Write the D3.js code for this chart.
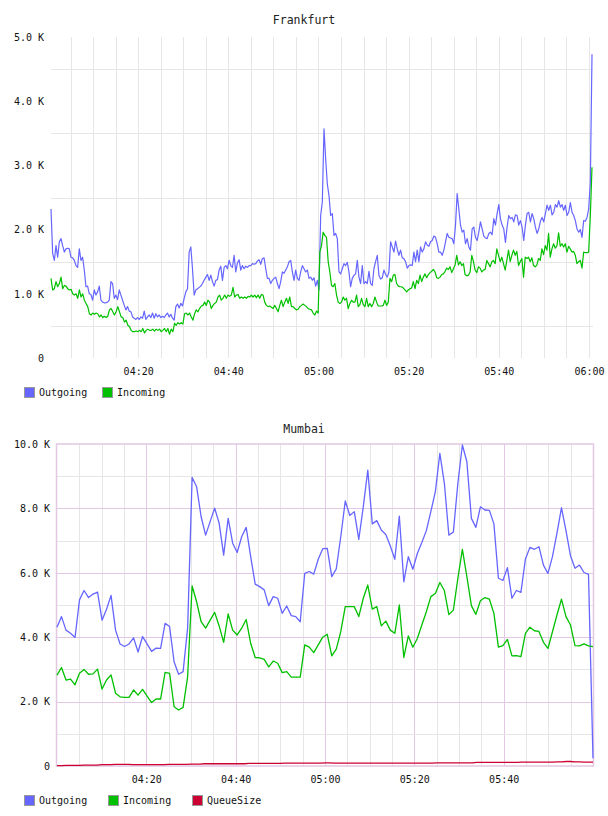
<!DOCTYPE html>
<html><head><meta charset="utf-8">
<script src="https://cdn.jsdelivr.net/npm/d3@7"></script>
<style>body{margin:0;background:#fff;} svg{display:block;font-family:"DejaVu Sans Mono",monospace;}</style>
</head><body><svg id="c" width="608" height="816"></svg>
<script>
// ---------- DATA (values in thousands) ----------
const fraStart = "04:00:40", fraEnd = "06:00:40";
const fraOutgoing = [
2.32,1.63,1.52,1.75,1.57,1.81,1.86,1.75,1.65,1.70,
1.71,1.70,1.57,1.56,1.52,1.44,1.41,1.70,1.52,1.57,
1.37,1.11,1.12,1.00,0.99,0.90,1.06,0.98,1.03,1.12,
0.90,0.87,0.86,0.86,0.87,0.90,1.19,1.16,0.93,0.98,
0.91,1.06,0.98,0.90,0.82,0.75,0.80,0.73,0.72,0.64,
0.62,0.60,0.63,0.60,0.64,0.62,0.73,0.60,0.64,0.67,
0.63,0.70,0.62,0.69,0.64,0.67,0.63,0.65,0.63,0.67,
0.70,0.64,0.68,0.62,0.59,0.80,0.84,0.78,0.85,0.81,
0.93,1.03,1.08,1.65,1.73,1.39,0.98,1.06,1.08,1.10,
1.12,1.16,1.21,1.26,1.30,1.21,1.29,1.19,1.12,1.21,
1.22,1.37,1.43,1.21,1.41,1.44,1.39,1.52,1.44,1.41,
1.60,1.34,1.48,1.53,1.37,1.44,1.39,1.43,1.41,1.44,
1.44,1.47,1.46,1.47,1.51,1.53,1.46,1.55,1.56,1.39,
1.24,1.24,1.16,1.21,1.24,1.26,1.16,1.08,1.19,1.34,
1.32,1.37,1.42,1.50,1.52,1.34,1.21,1.37,1.24,1.21,
1.34,1.44,1.39,1.34,1.37,1.24,1.26,1.21,1.25,1.12,
1.21,1.06,
2.22,2.43,3.57,3.10,2.71,2.53,2.22,2.25,1.91,1.94,
1.86,1.34,1.31,1.39,1.47,1.44,1.49,1.34,1.11,1.24,
1.29,1.31,1.52,1.26,1.16,1.44,1.16,1.19,1.16,1.35,
1.16,1.13,1.39,1.50,1.60,1.29,1.23,1.25,1.37,1.30,
1.26,1.34,1.81,1.73,1.65,1.82,1.70,1.60,1.68,1.56,
1.55,1.50,1.40,1.44,1.45,1.44,1.65,1.50,1.68,1.50,
1.73,1.65,1.70,1.81,1.76,1.74,1.81,1.83,1.90,1.88,
1.78,1.65,1.65,1.60,1.68,1.81,1.94,1.88,1.87,1.86,
1.78,2.07,2.56,2.32,2.07,1.96,1.99,1.78,1.86,1.73,
1.68,2.01,2.04,1.88,1.83,1.96,2.12,2.01,1.90,1.87,
1.86,1.94,1.96,1.92,2.17,2.07,2.25,2.39,2.17,2.07,
2.01,1.80,2.04,2.22,2.17,2.19,2.12,2.23,2.22,2.07,
2.14,2.04,1.83,2.07,2.25,2.27,2.12,2.25,2.17,2.04,
1.94,2.01,2.13,2.19,2.12,2.25,2.38,2.30,2.38,2.23,
2.27,2.39,2.35,2.45,2.35,2.39,2.30,2.38,2.22,2.27,
2.42,2.27,2.22,2.14,2.01,1.96,2.00,1.88,2.14,2.13,
2.19,2.32,2.74,4.73];
const fraIncoming = [
1.24,1.06,1.08,1.19,1.11,1.16,1.26,1.08,1.13,1.12,
1.08,1.06,1.07,1.00,0.98,1.00,0.93,1.06,0.95,1.00,
0.90,0.85,0.80,0.69,0.67,0.70,0.68,0.70,0.69,0.64,
0.67,0.63,0.65,0.63,0.65,0.75,0.77,0.72,0.67,0.72,
0.80,0.72,0.64,0.63,0.56,0.59,0.51,0.49,0.43,0.41,
0.41,0.42,0.41,0.43,0.41,0.46,0.39,0.43,0.45,0.43,
0.43,0.45,0.42,0.45,0.43,0.45,0.41,0.43,0.46,0.41,
0.46,0.37,0.45,0.41,0.54,0.51,0.55,0.53,0.55,0.53,
0.69,0.70,0.67,0.70,0.64,0.59,0.69,0.75,0.72,0.77,
0.81,0.82,0.87,0.82,0.90,0.87,0.77,0.82,0.85,0.87,
0.95,0.98,0.90,0.93,0.98,0.93,0.98,0.96,0.98,1.10,
0.95,0.98,0.99,0.93,0.95,0.93,0.95,0.93,0.96,0.95,
0.98,0.95,0.98,0.94,0.98,0.93,0.99,0.98,0.87,0.82,
0.80,0.81,0.79,0.77,0.82,0.77,0.72,0.82,0.90,0.80,
0.87,0.93,0.85,0.95,0.80,0.80,0.77,0.75,0.76,0.80,
0.82,0.84,0.82,0.80,0.77,0.76,0.75,0.70,0.67,0.73,
0.70,
1.65,1.75,1.96,1.91,1.88,1.50,1.34,1.13,1.11,1.16,
0.98,0.87,0.85,0.87,0.95,0.90,0.93,0.77,0.85,0.90,
0.87,0.87,0.98,0.80,0.83,0.93,0.83,0.80,0.93,0.80,
0.85,0.80,0.85,0.95,0.87,0.81,0.81,0.81,0.82,0.90,
0.82,0.87,1.24,1.19,1.29,1.30,1.16,1.12,1.11,1.11,
1.09,1.06,1.03,1.06,1.08,1.09,1.19,1.08,1.21,1.16,
1.29,1.19,1.26,1.31,1.25,1.30,1.33,1.35,1.38,1.34,
1.25,1.24,1.26,1.30,1.31,1.35,1.40,1.38,1.42,1.33,
1.39,1.45,1.60,1.45,1.50,1.44,1.47,1.30,1.28,1.29,
1.34,1.60,1.50,1.37,1.33,1.42,1.40,1.34,1.37,1.38,
1.52,1.47,1.42,1.50,1.52,1.47,1.70,1.60,1.50,1.57,
1.47,1.37,1.52,1.68,1.50,1.60,1.68,1.60,1.66,1.44,
1.50,1.55,1.26,1.57,1.55,1.57,1.50,1.56,1.44,1.42,
1.45,1.55,1.52,1.70,1.61,1.75,1.68,1.94,1.57,1.70,
1.78,1.71,1.75,1.95,1.74,1.78,1.73,1.78,1.65,1.74,
1.70,1.65,1.66,1.60,1.47,1.50,1.52,1.40,1.65,1.64,
1.64,1.65,2.22,2.97];

const mumStart = "04:00:00", mumEnd = "06:00:00";
const mumOutgoing = [
4.31,4.64,4.22,4.12,3.99,5.16,5.45,5.23,5.34,5.40,
4.53,4.87,5.30,4.22,3.79,3.71,3.79,3.98,3.54,4.02,
3.79,3.56,3.66,3.65,4.43,4.33,3.23,2.85,2.93,4.28,
8.96,8.67,7.74,7.17,7.59,8.01,7.54,6.55,7.69,6.92,
6.63,7.12,7.41,6.50,5.65,5.57,5.47,4.98,5.26,5.21,
4.74,4.97,4.67,4.64,4.48,5.98,6.04,5.96,6.42,6.75,
6.76,5.88,6.12,7.12,8.23,7.78,7.90,7.04,8.05,9.19,
7.52,7.62,7.33,7.19,6.83,6.42,7.76,5.72,6.50,6.11,
6.60,6.94,7.31,7.90,8.52,9.71,8.78,7.17,7.27,8.78,
9.97,9.45,7.69,7.41,8.05,7.95,7.94,7.52,5.83,5.76,
6.16,5.21,5.45,5.39,6.43,6.79,6.73,6.81,6.24,5.98,
6.50,7.23,8.02,7.31,6.53,6.14,6.24,6.01,5.95,0.24];
const mumIncoming = [
2.82,3.06,2.67,2.70,2.52,2.88,3.00,2.85,2.86,3.01,
2.39,2.67,2.83,2.26,2.15,2.13,2.13,2.36,2.20,2.38,
2.17,1.97,2.08,2.08,2.91,2.88,1.84,1.74,1.82,2.77,
5.59,5.10,4.48,4.28,4.53,4.77,4.35,3.84,4.72,4.22,
4.07,4.28,4.55,3.81,3.37,3.36,3.31,3.08,3.26,3.19,
2.90,2.93,2.76,2.76,2.76,3.76,3.69,3.52,3.76,4.00,
4.09,3.42,3.63,4.17,4.95,4.95,4.95,4.64,5.21,5.62,
4.87,4.95,4.35,4.50,4.22,4.12,5.00,3.37,4.04,3.69,
3.96,4.38,4.79,5.26,5.36,5.70,5.45,4.70,4.84,5.83,
6.73,5.88,4.98,4.71,5.13,5.23,5.18,4.74,3.69,3.74,
3.93,3.42,3.43,3.40,4.12,4.31,4.20,4.18,3.84,3.65,
4.17,4.69,5.18,4.64,4.38,3.74,3.73,3.79,3.73,3.71];
const mumQueueSize = [
0.01,0.01,0.02,0.02,0.02,0.02,0.03,0.03,0.03,0.03,
0.04,0.04,0.04,0.05,0.05,0.05,0.05,0.04,0.04,0.04,
0.04,0.04,0.04,0.04,0.04,0.05,0.05,0.05,0.05,0.05,
0.06,0.06,0.06,0.07,0.07,0.07,0.07,0.07,0.07,0.07,
0.07,0.07,0.07,0.08,0.08,0.08,0.08,0.08,0.08,0.08,
0.08,0.09,0.09,0.09,0.09,0.09,0.09,0.09,0.09,0.09,
0.10,0.10,0.09,0.09,0.09,0.09,0.09,0.09,0.09,0.09,
0.09,0.09,0.09,0.09,0.09,0.09,0.09,0.09,0.09,0.09,
0.09,0.09,0.09,0.09,0.09,0.10,0.10,0.10,0.10,0.10,
0.10,0.10,0.10,0.10,0.11,0.11,0.11,0.11,0.11,0.11,
0.11,0.11,0.11,0.11,0.12,0.12,0.12,0.12,0.12,0.12,
0.12,0.12,0.13,0.13,0.14,0.14,0.13,0.13,0.12,0.12,
0.12];

const fraYTicks = [0, 1, 2, 3, 4, 5];
const fraYGrid = [0.5, 1.5, 2.5, 3.5, 4.5];
const fraXLabels = ["04:20", "04:40", "05:00", "05:20", "05:40", "06:00"];
const mumYTicks = [0, 2, 4, 6, 8, 10];
const mumYGridMinor = [1, 3, 5, 7, 9];
const mumXLabels = ["04:20", "04:40", "05:00", "05:20", "05:40"];
const seriesNames = ["Outgoing", "Incoming", "QueueSize"];
const seriesColors = ["#6666ff", "#00c000", "#cc0033"];

// ---------- DRAWING ----------
const parse = d3.timeParse("%H:%M:%S");
const parseHM = d3.timeParse("%H:%M");
const svg = d3.select("#c");
const fmtY = v => v === 0 ? "0" : v.toFixed(1) + " K";

function drawChart(cfg) {
  const g = svg.append("g");
  const t0 = parse(cfg.start), t1 = parse(cfg.end);
  const x = d3.scaleTime().domain([t0, t1]).range([cfg.left, cfg.right]);
  const y = d3.scaleLinear().domain([0, cfg.yMax]).range([cfg.bottom, cfg.top]);
  const labelTimes = cfg.xLabels.map(parseHM);

  // vertical grid every 5 minutes
  const five = d3.timeMinute.every(5).range(t0, t1)
    .filter(t => +t > +t0 && +t < +t1);
  g.append("g").selectAll("line").data(five).join("line")
    .attr("x1", d => Math.round(x(d)) + 0.5).attr("x2", d => Math.round(x(d)) + 0.5)
    .attr("y1", cfg.top).attr("y2", cfg.bottom)
    .attr("stroke", d => (cfg.majorColor && labelTimes.some(l => +l === +d)) ? cfg.majorColor : cfg.gridColor)
    .attr("stroke-width", 1);

  // horizontal grid
  g.append("g").selectAll("line").data(cfg.yGrid).join("line")
    .attr("x1", cfg.left).attr("x2", cfg.gridRight)
    .attr("y1", d => Math.round(y(d)) + 0.5).attr("y2", d => Math.round(y(d)) + 0.5)
    .attr("stroke", cfg.gridColor).attr("stroke-width", 1);
  if (cfg.majorColor) {
    g.append("g").selectAll("line").data(cfg.yTicks.filter(v => v > 0 && v < cfg.yMax)).join("line")
      .attr("x1", cfg.left).attr("x2", cfg.gridRight)
      .attr("y1", d => Math.round(y(d)) + 0.5).attr("y2", d => Math.round(y(d)) + 0.5)
      .attr("stroke", cfg.majorColor).attr("stroke-width", 1);
    g.append("rect")
      .attr("x", cfg.left - 0.5).attr("y", cfg.top)
      .attr("width", cfg.gridRight - cfg.left + 1).attr("height", cfg.bottom - cfg.top)
      .attr("fill", "none").attr("stroke", cfg.majorColor).attr("stroke-width", 1.5);
  }

  // y axis labels
  const ya = d3.axisLeft(y).tickValues(cfg.yTicks).tickFormat(fmtY).tickSize(0).tickPadding(0);
  const yg = g.append("g").attr("transform", `translate(${cfg.yLabelRight},0)`).call(ya);
  yg.select(".domain").remove();
  yg.selectAll("text").attr("font-family", "DejaVu Sans Mono").attr("font-size", 10).attr("fill", "#111");

  // x axis labels
  const xa = d3.axisBottom(x).tickValues(labelTimes).tickFormat(d3.timeFormat("%H:%M")).tickSize(0).tickPadding(0);
  const xg = g.append("g").attr("transform", `translate(0,${cfg.xLabelTop})`).call(xa);
  xg.select(".domain").remove();
  xg.selectAll("text").attr("font-family", "DejaVu Sans Mono").attr("font-size", 10).attr("fill", "#111");

  // lines
  cfg.series.forEach((vals, si) => {
    const n = vals.length;
    const times = vals.map((v, i) => new Date(+t0 + (t1 - t0) * i / (n - 1)));
    const line = d3.line().x((d, i) => x(times[i])).y(d => y(d));
    g.append("path").datum(vals)
      .attr("d", line).attr("fill", "none")
      .attr("stroke", seriesColors[si]).attr("stroke-width", cfg.lineWidth)
      .attr("stroke-linejoin", "round");
  });

  // title
  g.append("text").attr("x", 304).attr("y", cfg.titleY).attr("text-anchor", "middle")
    .attr("font-family", "DejaVu Sans Mono").attr("font-size", 11.5).attr("fill", "#222")
    .text(cfg.title);

  // legend
  cfg.series.forEach((vals, si) => {
    const lx = cfg.legendX[si];
    g.append("rect").attr("x", lx + 0.5).attr("y", cfg.legendY + 0.5).attr("width", 10).attr("height", 10)
      .attr("fill", seriesColors[si]).attr("stroke", "#999").attr("stroke-width", 1);
    g.append("text").attr("x", lx + 15).attr("y", cfg.legendY + 9)
      .attr("font-family", "DejaVu Sans Mono").attr("font-size", 10).attr("fill", "#111")
      .text(seriesNames[si]);
  });
}

drawChart({
  title: "Frankfurt", titleY: 24,
  start: fraStart, end: fraEnd,
  left: 51, right: 592, gridRight: 593, top: 37, bottom: 358,
  yMax: 5, yTicks: fraYTicks, yGrid: fraYGrid, xLabels: fraXLabels,
  yLabelRight: 44, xLabelTop: 368,
  gridColor: "#e6e6e6", majorColor: null,
  series: [fraOutgoing, fraIncoming], lineWidth: 1.2,
  legendX: [24, 102], legendY: 387
});

drawChart({
  title: "Mumbai", titleY: 433,
  start: mumStart, end: mumEnd,
  left: 57, right: 593, gridRight: 593, top: 444, bottom: 766,
  yMax: 10, yTicks: mumYTicks, yGrid: mumYGridMinor, xLabels: mumXLabels,
  yLabelRight: 50, xLabelTop: 776,
  gridColor: "#e6e6e6", majorColor: "#e2c8e2",
  series: [mumOutgoing, mumIncoming, mumQueueSize], lineWidth: 1.3,
  legendX: [24, 108, 192], legendY: 795
});
</script></body></html>
